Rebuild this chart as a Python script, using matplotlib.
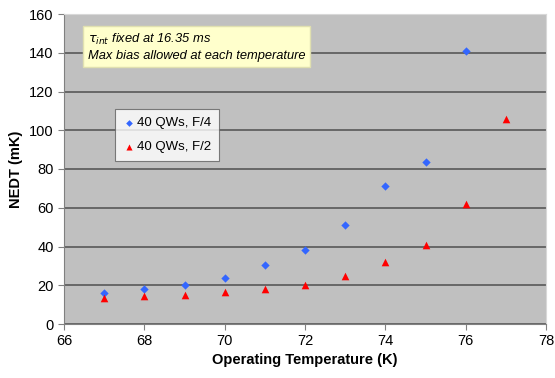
import matplotlib.pyplot as plt

temps_f4 = [67, 68, 69, 70, 71, 72, 73, 74, 75, 76]
nedt_f4 = [16, 18, 20, 24, 30.5, 38, 51, 71, 83.5, 141]
temps_f2 = [67, 68, 69, 70, 71, 72, 73, 74, 75, 76, 77]
nedt_f2 = [13.5, 14.5, 15, 16.5, 18, 20, 25, 32, 41, 62, 106]

plt.rcParams['font.family'] = ['Liberation Sans', 'DejaVu Sans']

fig = plt.figure(figsize=(5.55, 3.78), dpi=100)
ax = fig.add_axes([64 / 555, 1 - 324 / 378, (546 - 64) / 555, (324 - 14) / 378])
ax.set_facecolor('#c0c0c0')

ax.scatter(temps_f4, nedt_f4, marker='D', s=18, color='#3366ff', zorder=3,
           label='40 QWs, F/4', linewidths=0)
ax.scatter(temps_f2, nedt_f2, marker='^', s=30, color='#ff0000', zorder=3,
           label='40 QWs, F/2', linewidths=0)

ax.set_xlim(66, 78)
ax.set_ylim(0, 160)
ax.set_xticks(range(66, 79, 2))
ax.set_yticks(range(0, 161, 20))
ax.yaxis.grid(True, color='#606060', linewidth=1.3)
ax.set_axisbelow(True)
ax.tick_params(direction='out', length=4, colors='#808080', labelcolor='black',
               labelsize=10.5)
for side in ['top', 'right']:
    ax.spines[side].set_color('#d8d8d8')
for side in ['left', 'bottom']:
    ax.spines[side].set_color('#808080')

ax.set_xlabel('Operating Temperature (K)', fontsize=10.5, fontweight='bold', labelpad=3)
ax.set_ylabel('NEDT (mK)', fontsize=10.5, fontweight='bold', labelpad=4)

ax.text(88 / 555, 1 - 47 / 378,
        r'$\tau_{int}$ fixed at 16.35 ms' + '\nMax bias allowed at each temperature',
        transform=fig.transFigure, fontsize=9.3, style='italic', va='center',
        linespacing=1.35,
        bbox=dict(boxstyle='square,pad=0.35', facecolor='#ffffcc', edgecolor='#e0e0b0'))

leg = ax.legend(loc='upper left', bbox_to_anchor=(0.105, 0.693), fontsize=9.5,
                frameon=True, fancybox=False, edgecolor='#606060', handletextpad=0.1,
                borderpad=0.6, labelspacing=0.9, handlelength=1.0, markerscale=0.8,
                borderaxespad=0)
leg.get_frame().set_linewidth(0.8)

fig.savefig('out.png', dpi=100)
